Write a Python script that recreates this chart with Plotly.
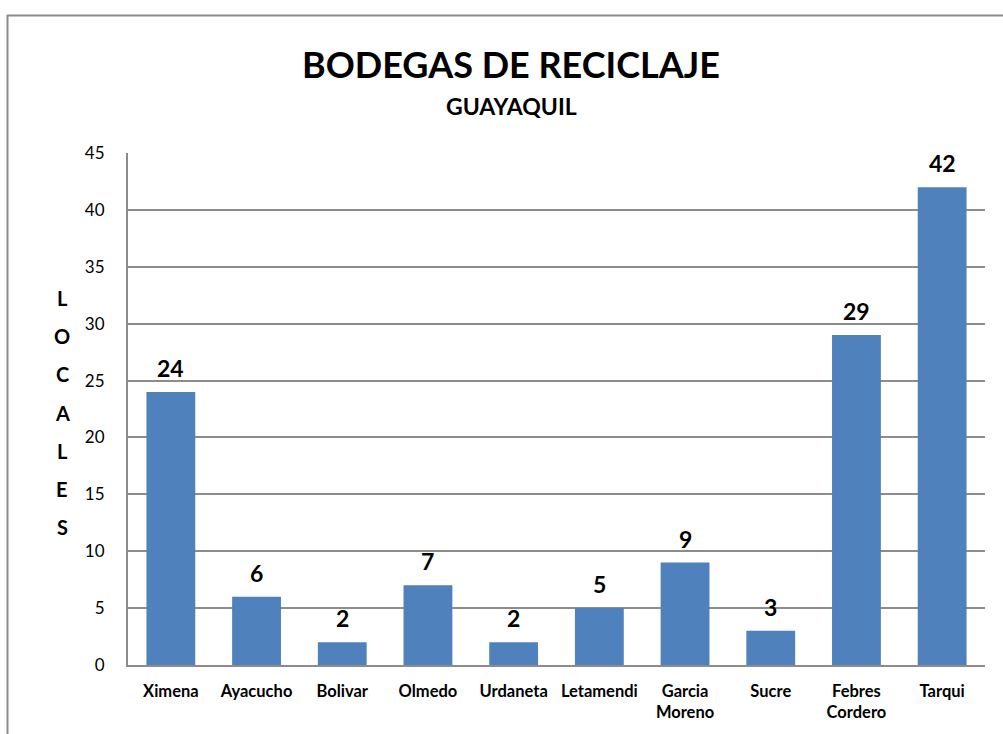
import plotly.graph_objects as go

categories = ["Ximena", "Ayacucho", "Bolivar", "Olmedo", "Urdaneta", "Letamendi",
              "Garcia<br>Moreno", "Sucre", "Febres<br>Cordero", "Tarqui"]
values = [24, 6, 2, 7, 2, 5, 9, 3, 29, 42]
y_ticks = [0, 5, 10, 15, 20, 25, 30, 35, 40, 45]
axis_letters = ["L", "O", "C", "A", "L", "E", "S"]

W, H = 1003, 734
L, R, T, B = 128, 18, 153, 69
pw, ph = W - L - R, H - T - B

def px_x(x):
    return (x - L) / pw

def px_y(y):
    return (H - B - y) / ph

FONT = "Lato"

fig = go.Figure(go.Bar(
    x=categories, y=values,
    marker=dict(color="#4F81BD", line=dict(width=0)),
    cliponaxis=False,
))

annotations = [
    dict(text="<b>BODEGAS DE RECICLAJE</b>", x=px_x(511), y=px_y(64), xref="paper", yref="paper",
         showarrow=False, font=dict(family=FONT, size=36, color="#000000"), xanchor="center", yanchor="middle"),
    dict(text="<b>GUAYAQUIL</b>", x=px_x(511), y=px_y(106), xref="paper", yref="paper",
         showarrow=False, font=dict(family=FONT, size=23, color="#000000"), xanchor="center", yanchor="middle"),
]
for c, v in zip(categories, values):
    annotations.append(dict(text="<b>%d</b>" % v, x=c, y=v, xref="x", yref="y",
                            showarrow=False, yanchor="bottom", yshift=8,
                            font=dict(family=FONT, size=23, color="#000000")))
for i, ch in enumerate(axis_letters):
    annotations.append(dict(text="<b>%s</b>" % ch, x=px_x(62), y=px_y(298 + i * 38.2),
                            xref="paper", yref="paper", showarrow=False,
                            font=dict(family=FONT, size=20, color="#000000"),
                            xanchor="center", yanchor="middle"))

shapes = [
    dict(type="line", xref="paper", yref="paper", x0=px_x(7), x1=px_x(1003), y0=px_y(15.5), y1=px_y(15.5),
         line=dict(color="#8C8C8C", width=2)),
    dict(type="line", xref="paper", yref="paper", x0=px_x(7.5), x1=px_x(7.5), y0=px_y(15), y1=px_y(734),
         line=dict(color="#8C8C8C", width=2)),
]

fig.update_layout(
    width=W, height=H,
    margin=dict(l=L, r=R, t=T, b=B),
    paper_bgcolor="white", plot_bgcolor="white",
    bargap=0.43,
    showlegend=False,
    annotations=annotations,
    shapes=shapes,
    font=dict(family=FONT, color="#000000"),
)
fig.update_xaxes(
    showline=True, linecolor="#8C8C8C", linewidth=2,
    tickfont=dict(family=FONT, size=16.5, color="#000000", weight="bold"),
    ticks="", showgrid=False, ticklabelstandoff=10,
)
fig.update_yaxes(
    range=[0, 45], tickvals=y_ticks,
    showline=True, linecolor="#8C8C8C", linewidth=2,
    showgrid=True, gridcolor="#8C8C8C", gridwidth=1.5,
    ticks="",
    tickfont=dict(family=FONT, size=17, color="#000000"),
    ticklabelstandoff=18,
    zeroline=False,
)

fig.write_html("out.html")
